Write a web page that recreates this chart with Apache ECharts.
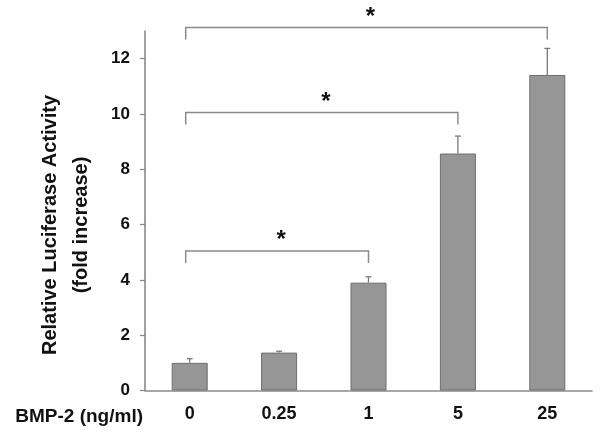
<!DOCTYPE html>
<html>
<head>
<meta charset="utf-8">
<script src="https://cdn.jsdelivr.net/npm/echarts@6/dist/echarts.min.js"></script>
<style>
html,body{margin:0;padding:0;background:#fff;}
#chart{width:604px;height:435px;}
</style>
</head>
<body>
<div id="chart"></div>
<script>
const categories = ['0', '0.25', '1', '5', '25'];
const values = [1.0, 1.37, 3.9, 8.57, 11.41];
const errors = [0.15, 0.05, 0.21, 0.63, 0.96];
const yTicks = [0, 2, 4, 6, 8, 10, 12];
// significance brackets: [fromCategoryIndex, toCategoryIndex, level]
const bracketFrom = [0, 0, 0];
const bracketTo = [2, 3, 4];
const bracketLevel = [5.04, 10.05, 13.13];
const bracketMark = ['*', '*', '*'];
const xAxisTitle = 'BMP-2 (ng/ml)';
const yAxisTitle = 'Relative Luciferase Activity\n(fold increase)';

const FONT = '"Liberation Sans", Arial, sans-serif';
const chart = echarts.init(document.getElementById('chart'), null, {renderer: 'canvas'});

const errData = values.map((v, i) => [i, v, errors[i]]);
const brData = bracketFrom.map((f, i) => [f, bracketTo[i], bracketLevel[i], bracketMark[i]]);

chart.setOption({
  animation: false,
  backgroundColor: '#fff',
  grid: {left: 145, right: 12, top: 31, bottom: 44.5, containLabel: false},
  xAxis: {
    type: 'category',
    data: categories,
    boundaryGap: true,
    axisLine: {lineStyle: {color: '#8a8a8a', width: 1.6}},
    axisTick: {show: false},
    axisLabel: {color: '#111', fontFamily: FONT, fontWeight: 'bold', fontSize: 18, margin: 15}
  },
  yAxis: {
    type: 'value',
    min: 0, max: 13, interval: 2,
    splitLine: {show: false},
    axisLine: {show: true, lineStyle: {color: '#8a8a8a', width: 1.6}},
    axisTick: {show: true, inside: false, length: 5, customValues: yTicks, lineStyle: {color: '#8a8a8a', width: 1.2}},
    axisLabel: {color: '#111', fontFamily: FONT, fontWeight: 'bold', fontSize: 17, margin: 15, customValues: yTicks}
  },
  graphic: [
    {type: 'text', x: 143, y: 417, style: {text: xAxisTitle, fill: '#111', font: 'bold 19px ' + FONT, textAlign: 'right', textVerticalAlign: 'middle'}},
    {type: 'text', x: 66, y: 225, rotation: Math.PI / 2, style: {text: yAxisTitle, fill: '#111', font: 'bold 20px ' + FONT, textAlign: 'center', textVerticalAlign: 'middle', lineHeight: 31}}
  ],
  series: [
    {
      type: 'bar',
      data: values,
      barWidth: 36,
      itemStyle: {color: '#969696', borderColor: '#6e6e6e', borderWidth: 1}
    },
    {
      type: 'custom',
      data: errData,
      clip: false,
      z: 3,
      encode: {x: 0, y: 1},
      renderItem: function (params, api) {
        const i = api.value(0), v = api.value(1), e = api.value(2);
        const p0 = api.coord([i, v]);
        const p1 = api.coord([i, v + e]);
        const st = {stroke: '#7a7a7a', lineWidth: 1.3};
        return {type: 'group', children: [
          {type: 'line', shape: {x1: p0[0], y1: p0[1], x2: p1[0], y2: p1[1]}, style: st},
          {type: 'line', shape: {x1: p1[0] - 3, y1: p1[1], x2: p1[0] + 3, y2: p1[1]}, style: st}
        ]};
      }
    },
    {
      type: 'custom',
      data: brData,
      clip: false,
      z: 4,
      encode: {x: 0, y: 2},
      renderItem: function (params, api) {
        const f = api.value(0), t = api.value(1), lv = api.value(2);
        const a = api.coord([f, lv]);
        const b = api.coord([t, lv]);
        const lx = a[0] - 4, rx = b[0], y = a[1];
        const mark = brData[params.dataIndex][3];
        return {type: 'group', children: [
          {type: 'polyline', shape: {points: [[lx, y + 12], [lx, y], [rx, y], [rx, y + 12]]},
           style: {stroke: '#8a8a8a', lineWidth: 1.5, fill: null}},
          {type: 'text', x: (lx + rx) / 2 + 4, y: y - 10.5,
           style: {text: mark, fill: '#111', font: 'bold 24px ' + FONT, textAlign: 'center', textVerticalAlign: 'middle'}}
        ]};
      }
    }
  ]
});
</script>
</body>
</html>
